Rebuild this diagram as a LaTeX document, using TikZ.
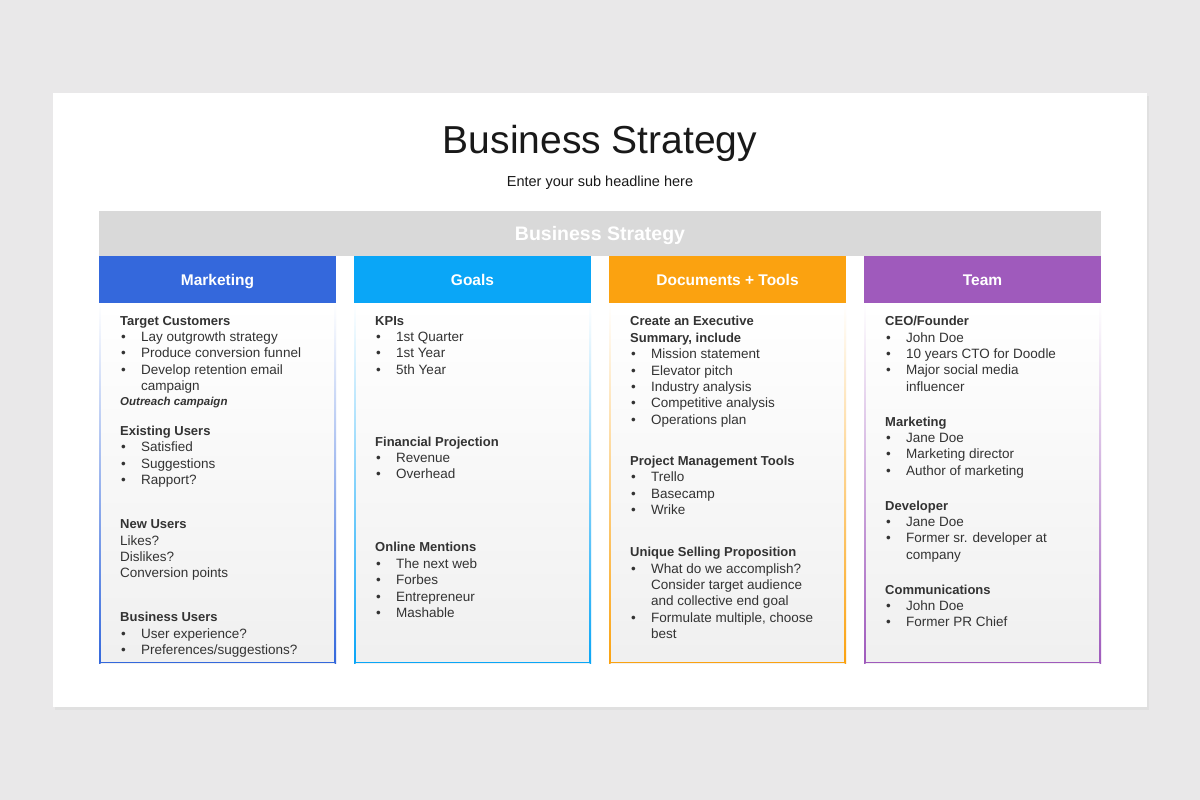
\documentclass[tikz,border=0pt]{standalone}
\usepackage{fontspec}
\setmainfont{Liberation Sans}
\begin{document}
\definecolor{bg}{HTML}{E9E8E9}
\definecolor{cM}{HTML}{3468DC}
\definecolor{cG}{HTML}{0AA6F7}
\definecolor{cD}{HTML}{FBA210}
\definecolor{cT}{HTML}{9F5ABC}
\definecolor{tx}{HTML}{333333}
\begin{tikzpicture}[x=1pt,y=-1pt,
  hd/.style={anchor=west,inner sep=0,yshift=-1.5pt,text height=9.5pt,text depth=2.5pt,font=\fontsize{13}{15}\selectfont\bfseries,text=tx},
  it/.style={anchor=west,inner sep=0,yshift=-1.5pt,text height=9.5pt,text depth=2.5pt,font=\fontsize{13.5}{15}\selectfont,text=tx},
  colhead/.style={anchor=center,yshift=-1pt,text height=11pt,text depth=3pt,text=white,font=\fontsize{15.5}{18}\selectfont\bfseries}]
\newcommand\hdl[3]{\node[hd] at (#1,#2) {#3};}
\newcommand\bul[3]{\node[it] at (#1+1,#2) {•}; \node[it] at (#1+21,#2) {#3};}
\newcommand\cnt[3]{\node[it] at (#1+21,#2) {#3};}
\newcommand\pln[3]{\node[it] at (#1,#2) {#3};}
\useasboundingbox (0,0) rectangle (1200,800);
\fill[bg] (0,0) rectangle (1200,800);
\fill[black!12] (55,96) rectangle (1149,710);
\fill[white] (53,93) rectangle (1147,707);
\node[font=\fontsize{39}{44}\selectfont,text=black!90] (title) at (600,143) {Business Strategy};
\node[font=\fontsize{14.5}{17}\selectfont,text=black!90] (sub) at (600,183) {Enter your sub headline here};
\fill[black!15] (99,211) rectangle (1101,256);
\node[text=white,yshift=-1pt,text height=14pt,text depth=4pt,font=\fontsize{19.5}{22}\selectfont\bfseries] (bar) at (600,234) {Business Strategy};
\foreach \x/\c/\t/\n in {99/cM/Marketing/m,354/cG/Goals/g,609/cD/Documents + Tools/d,864/cT/Team/t}{
  \shade[top color=white,bottom color=black!6] (\x,303) rectangle (\x+237,663);
  \shade[top color=white,bottom color=\c] (\x,303) rectangle (\x+1.5,663);
  \shade[top color=white,bottom color=\c] (\x+235.5,303) rectangle (\x+237,663);
  \draw[\c,line width=1.5] (\x,662.5) -- (\x+237,662.5);
  \fill[\c] (\x,256) rectangle (\x+237,303);
  \node[colhead] (h\n) at (\x+118.5,280) {\t};
}
% Marketing
\def\X{120}
\hdl{\X}{320}{Target Customers}
\bul{\X}{336}{Lay outgrowth strategy}
\bul{\X}{352}{Produce conversion funnel}
\bul{\X}{369}{Develop retention email}
\cnt{\X}{385}{campaign}
\node[anchor=west,inner sep=0,yshift=-1.5pt,text height=8.5pt,text depth=2.5pt,font=\fontsize{11.5}{13}\selectfont\bfseries\itshape,text=tx] at (\X,401) {Outreach campaign};
\hdl{\X}{430}{Existing Users}
\bul{\X}{446}{Satisfied}
\bul{\X}{463}{Suggestions}
\bul{\X}{479}{Rapport?}
\hdl{\X}{523}{New Users}
\pln{\X}{540}{Likes?}
\pln{\X}{556}{Dislikes?}
\pln{\X}{572}{Conversion points}
\hdl{\X}{616}{Business Users}
\bul{\X}{633}{User experience?}
\bul{\X}{649}{Preferences/suggestions?}
% Goals
\def\X{375}
\hdl{\X}{320}{KPIs}
\bul{\X}{336}{1st Quarter}
\bul{\X}{352}{1st Year}
\bul{\X}{369}{5th Year}
\hdl{\X}{441}{Financial Projection}
\bul{\X}{457}{Revenue}
\bul{\X}{473}{Overhead}
\hdl{\X}{546}{Online Mentions}
\bul{\X}{563}{The next web}
\bul{\X}{579}{Forbes}
\bul{\X}{596}{Entrepreneur}
\bul{\X}{612}{Mashable}
% Docs
\def\X{630}
\hdl{\X}{320}{Create an Executive}
\hdl{\X}{337}{Summary, include}
\bul{\X}{353}{Mission statement}
\bul{\X}{370}{Elevator pitch}
\bul{\X}{386}{Industry analysis}
\bul{\X}{402}{Competitive analysis}
\bul{\X}{419}{Operations plan}
\hdl{\X}{460}{Project Management Tools}
\bul{\X}{476}{Trello}
\bul{\X}{493}{Basecamp}
\bul{\X}{509}{Wrike}
\hdl{\X}{551}{Unique Selling Proposition}
\bul{\X}{568}{What do we accomplish?}
\cnt{\X}{584}{Consider target audience}
\cnt{\X}{600}{and collective end goal}
\bul{\X}{617}{Formulate multiple, choose}
\cnt{\X}{633}{best}
% Team
\def\X{885}
\hdl{\X}{320}{CEO/Founder}
\bul{\X}{337}{John Doe}
\bul{\X}{353}{10 years CTO for Doodle}
\bul{\X}{369}{Major social media}
\cnt{\X}{386}{influencer}
\hdl{\X}{421}{Marketing}
\bul{\X}{437}{Jane Doe}
\bul{\X}{453}{Marketing director}
\bul{\X}{470}{Author of marketing}
\hdl{\X}{505}{Developer}
\bul{\X}{521}{Jane Doe}
\bul{\X}{537}{Former sr. developer at}
\cnt{\X}{554}{company}
\hdl{\X}{589}{Communications}
\bul{\X}{605}{John Doe}
\bul{\X}{621}{Former PR Chief}
\end{tikzpicture}
\end{document}
